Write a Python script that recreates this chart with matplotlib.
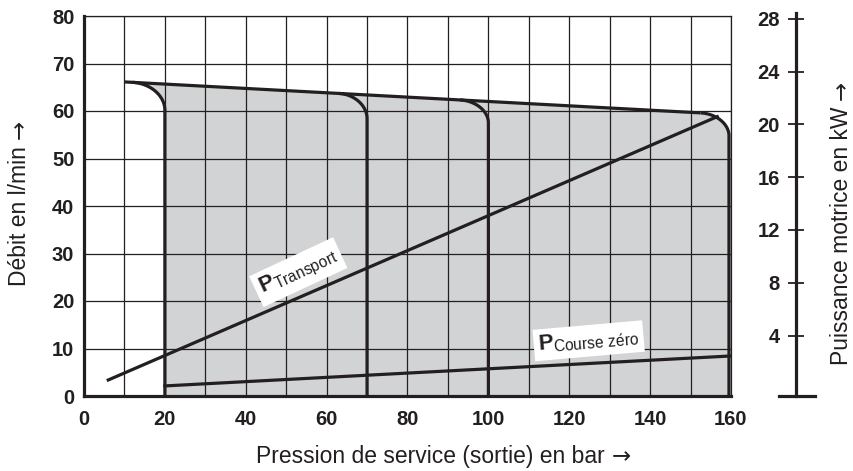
import numpy as np
import matplotlib
matplotlib.use("Agg")
import matplotlib.pyplot as plt
from matplotlib.lines import Line2D

plt.rcParams['font.family'] = ['Liberation Sans', 'DejaVu Sans']
plt.rcParams['mathtext.fontset'] = 'custom'
plt.rcParams['mathtext.rm'] = 'Liberation Sans'
plt.rcParams['mathtext.bf'] = 'Liberation Sans:bold'
plt.rcParams['mathtext.it'] = 'Liberation Sans:italic'

# ---- data ----
# upper envelope of the flow (l/min) vs pressure (bar)
top_p = [10, 40, 60, 90, 130, 155]
top_q = [66.1, 64.8, 63.8, 62.5, 60.6, 59.5]
# pressure cut-off curves (bar) and their corner sizes (bar, l/min)
cutoff_p = [20, 70, 100, 159.5]
corner_rx = [8, 7, 7, 7]
corner_ry = [5.5, 5, 4.5, 4.5]
# drive power lines (kW, right axis)
p_transport_p = [6, 156.6]
p_transport_kw = [0.63, 20.58]
p_zero_p = [20, 160]
p_zero_kw = [0.18, 2.45]
# ticks
x_ticks = [0, 20, 40, 60, 80, 100, 120, 140, 160]
y_ticks = [0, 10, 20, 30, 40, 50, 60, 70, 80]
kw_ticks = [4, 8, 12, 16, 20, 24, 28]
# axis titles
x_title = 'Pression de service (sortie) en bar'
y_title = 'Débit en l/min'
y2_title = 'Puissance motrice en kW'

INK = '#231f20'
GREY = '#d1d3d4'
LABEL_FS = 16.5

W, H = 854, 471
fig = plt.figure(figsize=(W / 100, H / 100), dpi=100)

L, R, B, T = 84, 731, 396, 16
ax = fig.add_axes([L / W, 1 - B / H, (R - L) / W, (B - T) / H])
ax.set_xlim(0, 160)
ax.set_ylim(0, 80)

_fit = np.polyfit(top_p, top_q, 1)


def top_line(p):
    return np.polyval(_fit, p)


def cutoff_curve(pc, rx, ry):
    th = np.linspace(np.pi / 2, 0, 40)
    p = pc - rx * (1 - np.cos(th))
    q = top_line(p) - ry * (1 - np.sin(th))
    return np.append(p, pc), np.append(q, 0)


curves = [cutoff_curve(pc, rx, ry) for pc, rx, ry in zip(cutoff_p, corner_rx, corner_ry)]

# grey operating area
c_left = curves[0]
c_right = curves[-1]
tp = np.linspace(c_left[0][0], c_right[0][0], 100)
poly_p = np.concatenate([c_left[0][::-1], tp, c_right[0]])
poly_q = np.concatenate([c_left[1][::-1], top_line(tp), c_right[1]])
ax.fill(poly_p, poly_q, color=GREY, lw=0, zorder=1)

# top line and cut-off curves
tl = np.linspace(top_p[0], c_right[0][0], 100)
ax.plot(tl, top_line(tl), color=INK, lw=2.3, zorder=4, solid_capstyle='butt')
for cp, cq in curves:
    ax.plot(cp, cq, color=INK, lw=2.3, zorder=4, solid_capstyle='butt')

# grid
ax.set_xticks(x_ticks)
ax.set_xticks(np.arange(0, 161, 10), minor=True)
ax.set_yticks(y_ticks)
ax.grid(True, which='both', color=INK, lw=0.9)
ax.set_axisbelow(False)
for gl in ax.get_xgridlines() + ax.get_ygridlines():
    gl.set_zorder(2)
ax.tick_params(which='both', length=0)
ax.tick_params(axis='x', pad=10, labelsize=14.5, colors=INK)
ax.tick_params(axis='y', pad=7, labelsize=14.5, colors=INK)
for lab in ax.get_xticklabels() + ax.get_yticklabels():
    lab.set_fontweight('bold')
for s in ['left', 'bottom']:
    ax.spines[s].set_linewidth(2.3)
    ax.spines[s].set_color(INK)
for s in ['top', 'right']:
    ax.spines[s].set_linewidth(0.9)
    ax.spines[s].set_color(INK)

# power scale (kW): 0 kW at pixel 388.3, 13.2 px per kW
kw_at_bottom = -(B - 388.3) / 13.2
kw_at_top = (388.3 - T) / 13.2
axp = ax.twinx()
axp.set_ylim(kw_at_bottom, kw_at_top)
axp.axis('off')
axp.plot(p_transport_p, p_transport_kw, color=INK, lw=2.3, zorder=5)
axp.plot(p_zero_p, p_zero_kw, color=INK, lw=2.3, zorder=5)

mt = dict(color=INK, ha='center', va='center', rotation_mode='anchor',
          bbox=dict(boxstyle='square,pad=0.2', fc='white', ec='none'))
axp.text(53, 8.8, r'$\mathbf{P}_{\mathrm{Transport}}$', fontsize=16, rotation=25, **mt)
axp.text(124.8, 3.6, r'$\mathbf{P}_{\mathrm{Course\ z\acute{e}ro}}$', fontsize=16, rotation=5, **mt)

# separate power scale on the right
T2 = 13
XS = 796
ax2 = fig.add_axes([XS / W, 1 - B / H, 1 / W, (B - T2) / H])
ax2.set_ylim(kw_at_bottom, (388.3 - T2) / 13.2)
ax2.patch.set_visible(False)
for s in ['top', 'right', 'bottom']:
    ax2.spines[s].set_visible(False)
ax2.spines['left'].set_linewidth(2.3)
ax2.spines['left'].set_color(INK)
ax2.set_xticks([])
ax2.set_yticks(kw_ticks)
ax2.tick_params(axis='y', direction='inout', length=11, width=1.3, pad=6,
                labelsize=14.5, colors=INK)
for lab in ax2.get_yticklabels():
    lab.set_fontweight('bold')
fig.add_artist(Line2D([779 / W, 815 / W], [1 - B / H, 1 - B / H], lw=2.3, color=INK))

# axis titles with a DejaVu arrow appended
renderer = fig.canvas.get_renderer()


def titled(text, cx, cy, rot):
    """cx, cy: pixel positions from top-left; for rot=0 cy is baseline, cx centre;
    for rot=90 cx is baseline, cy centre."""
    t = fig.text(0, 0, text + ' ', fontsize=LABEL_FS, color=INK,
                 family=['Liberation Sans'], rotation=rot, rotation_mode='anchor',
                 ha='left', va='baseline')
    a = fig.text(0, 0, '→', fontsize=LABEL_FS, color=INK,
                 family=['DejaVu Sans'], rotation=rot, rotation_mode='anchor',
                 ha='left', va='baseline')
    bt = t.get_window_extent(renderer)
    ba = a.get_window_extent(renderer)
    if rot == 0:
        w1, w2 = bt.width, ba.width
        x0 = cx - (w1 + w2) / 2
        t.set_position((x0 / W, 1 - cy / H))
        a.set_position(((x0 + w1) / W, 1 - cy / H))
    else:
        w1, w2 = bt.height, ba.height
        y0 = cy + (w1 + w2) / 2  # bottom, pixel from top
        t.set_position((cx / W, 1 - y0 / H))
        a.set_position((cx / W, 1 - (y0 - w1) / H))


titled(x_title, 443.5, 463, 0)
titled(y_title, 26, 203, 90)
titled(y2_title, 848, 223, 90)

fig.savefig('out.png', dpi=100)
